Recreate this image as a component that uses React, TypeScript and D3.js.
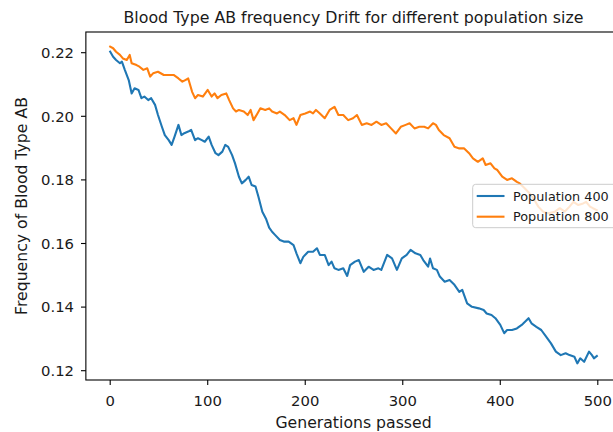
import React from "react";
import * as d3 from "d3";

const gens400 = [0,3,6,10,12,15,19,22,25,29,32,35,39,42,46,49,53,56,60,63,66,70,73,76,80,83,87,90,94,97,101,104,108,111,115,118,121,125,128,132,135,139,142,145,149,152,156,160,163,166,169,174,178,183,188,191,195,198,203,208,212,215,220,224,227,230,234,239,243,246,251,255,260,265,270,275,278,284,289,294,299,304,308,313,318,321,326,328,331,335,338,343,348,353,358,361,366,371,378,383,386,391,395,400,404,407,412,417,422,429,432,437,442,447,452,457,462,467,471,476,479,482,486,491,494,496,499];
const freq400 = [0.2203,0.2187,0.2177,0.2167,0.2172,0.2146,0.2114,0.2072,0.2088,0.2083,0.2057,0.2062,0.2051,0.2057,0.2036,0.2004,0.1967,0.1941,0.1925,0.1910,0.1936,0.1973,0.1941,0.1947,0.1952,0.1957,0.1925,0.1931,0.1925,0.1920,0.1936,0.1910,0.1884,0.1878,0.1889,0.1910,0.1904,0.1878,0.1852,0.1810,0.1789,0.1800,0.1810,0.1784,0.1779,0.1747,0.1700,0.1676,0.1650,0.1637,0.1627,0.1611,0.1606,0.1606,0.1595,0.1569,0.1538,0.1558,0.1574,0.1574,0.1585,0.1564,0.1564,0.1532,0.1543,0.1522,0.1517,0.1522,0.1498,0.1532,0.1543,0.1548,0.1511,0.1527,0.1517,0.1522,0.1517,0.1564,0.1553,0.1517,0.1553,0.1564,0.1580,0.1569,0.1564,0.1548,0.1527,0.1553,0.1522,0.1517,0.1496,0.1480,0.1485,0.1470,0.1448,0.1454,0.1412,0.1401,0.1396,0.1391,0.1380,0.1375,0.1365,0.1344,0.1318,0.1328,0.1328,0.1333,0.1344,0.1365,0.1349,0.1338,0.1328,0.1307,0.1286,0.1260,0.1249,0.1255,0.1249,0.1244,0.1223,0.1239,0.1228,0.1260,0.1249,0.1239,0.1246];

const gens800 = [0,3,6,10,13,17,20,22,27,30,34,38,41,44,49,55,60,65,70,74,77,80,84,87,90,95,100,104,107,110,114,119,122,126,129,132,137,141,144,147,151,154,159,163,166,171,174,179,184,188,191,195,200,205,208,211,215,220,225,230,234,239,244,249,253,258,263,268,273,278,283,288,293,298,303,307,312,317,322,326,331,334,337,342,348,353,358,363,368,372,377,382,385,390,394,397,402,407,412,417,420,425,430,435,439,444,449,456,461,466,471,475,480,485,488,492,495,499];
const freq800 = [0.2219,0.2214,0.2203,0.2193,0.2182,0.2177,0.2193,0.2167,0.2161,0.2156,0.2146,0.2151,0.2125,0.2135,0.2140,0.2130,0.2130,0.2130,0.2119,0.2109,0.2114,0.2119,0.2077,0.2057,0.2067,0.2062,0.2083,0.2062,0.2072,0.2057,0.2067,0.2072,0.2051,0.2025,0.2015,0.2020,0.2015,0.2004,0.2020,0.1988,0.2009,0.2025,0.2020,0.2025,0.2015,0.2009,0.2015,0.2004,0.1988,0.1994,0.1973,0.2004,0.2009,0.2015,0.2009,0.2020,0.2009,0.1994,0.2020,0.2030,0.2004,0.2004,0.1988,0.1994,0.2004,0.1973,0.1978,0.1973,0.1983,0.1973,0.1978,0.1962,0.1946,0.1967,0.1973,0.1978,0.1962,0.1967,0.1967,0.1962,0.1978,0.1973,0.1957,0.1941,0.1931,0.1904,0.1899,0.1899,0.1884,0.1868,0.1857,0.1868,0.1847,0.1852,0.1836,0.1831,0.1810,0.1800,0.1805,0.1794,0.1789,0.1774,0.1758,0.1737,0.1716,0.1700,0.1695,0.1700,0.1711,0.1700,0.1716,0.1731,0.1721,0.1726,0.1731,0.1716,0.1711,0.1705];

const xTicks = [0, 100, 200, 300, 400, 500];
const yTicks = [0.12, 0.14, 0.16, 0.18, 0.2, 0.22];
const seriesNames = ["Population 400", "Population 800"];
const seriesColors = ["#1f77b4", "#ff7f0e"];
const titleText = "Blood Type AB frequency Drift for different population size";
const xLabelText = "Generations passed";
const yLabelText = "Frequency of Blood Type AB";

const W = 613, H = 432;
const FONT = "'DejaVu Sans', sans-serif";

export default function App() {
  const x = d3.scaleLinear().domain([0, 500]).range([110.2, 597.8]);
  const y = d3.scaleLinear().domain([0.12, 0.22]).range([370.7, 52.7]);
  const left = x(-24.95), right = x(523.95);
  const top = 32, bottom = 380;

  const series = [
    gens400.map((g, i) => [g, freq400[i]] as [number, number]),
    gens800.map((g, i) => [g, freq800[i]] as [number, number]),
  ];
  const line = d3.line<[number, number]>().x(d => x(d[0])).y(d => y(d[1]));

  const legX = 472.7, legY = 184.3, legH = 43.4;

  return (
    <div style={{ position: "absolute", left: 0, top: 0 }}>
      <svg width={W} height={H} style={{ display: "block", background: "#fff" }} fontFamily={FONT}>
        <defs>
          <clipPath id="ax">
            <rect x={left} y={top} width={right - left} height={bottom - top} />
          </clipPath>
        </defs>
        <rect x={0} y={0} width={W} height={H} fill="#fff" />
        <g clipPath="url(#ax)">
          {series.map((s, i) => (
            <path key={i} d={line(s) || ""} fill="none" stroke={seriesColors[i]} strokeWidth={2.1} strokeLinejoin="round" strokeLinecap="square" />
          ))}
        </g>
        {/* spines */}
        <rect x={left} y={top} width={right - left} height={bottom - top} fill="none" stroke="#000" strokeWidth={1.1} />
        {/* x ticks */}
        {xTicks.map(t => (
          <g key={t}>
            <line x1={x(t)} x2={x(t)} y1={bottom} y2={bottom + 4.9} stroke="#000" strokeWidth={1.1} />
            <text x={x(t)} y={406} textAnchor="middle" fontSize={14.8} fill="#1a1a1a">{d3.format("d")(t)}</text>
          </g>
        ))}
        {yTicks.map(t => (
          <g key={t}>
            <line x1={left - 4.9} x2={left} y1={y(t)} y2={y(t)} stroke="#000" strokeWidth={1.1} />
            <text x={74} y={y(t)} dy="0.36em" textAnchor="end" fontSize={14.8} fill="#1a1a1a">{d3.format(".2f")(t)}</text>
          </g>
        ))}
        <text x={(left + right) / 2} y={23} textAnchor="middle" fontSize={15.8} fill="#1a1a1a">{titleText}</text>
        <text x={(left + right) / 2} y={427.5} textAnchor="middle" fontSize={15.7} fill="#1a1a1a">{xLabelText}</text>
        <text transform={`translate(27,${(top + bottom) / 2}) rotate(-90)`} textAnchor="middle" fontSize={15.7} fill="#1a1a1a">{yLabelText}</text>
        {/* legend */}
        <rect x={legX} y={legY} width={150} height={legH} rx={3} fill="#fff" fillOpacity={0.8} stroke="#cccccc" strokeWidth={1} />
        {seriesNames.map((n, i) => (
          <g key={n}>
            <line x1={476.7} x2={504.5} y1={196 + i * 20.7} y2={196 + i * 20.7} stroke={seriesColors[i]} strokeWidth={2.1} />
            <text x={513} y={196 + i * 20.7} dy="0.36em" fontSize={12.8} fill="#1a1a1a">{n}</text>
          </g>
        ))}
      </svg>
    </div>
  );
}
